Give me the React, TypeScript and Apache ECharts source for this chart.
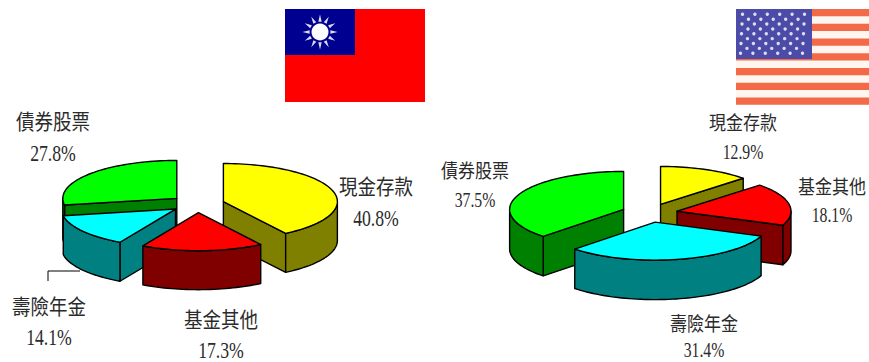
import React, { useEffect, useRef } from "react";
import * as echarts from "echarts";

const categories = ["現金存款", "基金其他", "壽險年金", "債券股票"];
const taiwanShares = [40.8, 17.3, 14.1, 27.8];
const usShares = [12.9, 18.1, 31.4, 37.5];

const topColors = ["#ffff00", "#ff0000", "#00ffff", "#00ff00"];
const sideColors = ["#808000", "#800000", "#008080", "#008000"];

const CJK_FONT = '"Noto Sans CJK TC", sans-serif';
const NUM_FONT = '"Liberation Serif", serif';
const INK = "#2b2b2b";

type PieShape = {
  cx: number; cy: number; rx: number; ry: number; depth: number;
  explodeX: number; explodeY: number;
};

const leftPie: PieShape = { cx: 197.5, cy: 204, rx: 114, ry: 38, depth: 39, explodeX: 27, explodeY: 8.7 };
const rightPie: PieShape = { cx: 649.5, cy: 213, rx: 114, ry: 38, depth: 39.5, explodeX: 28, explodeY: 9.3 };

const rad = (d: number) => (d * Math.PI) / 180;

// One tilted, exploded pie as a custom series: angles run clockwise from 12 o'clock.
function pieSeries(shares: number[], pie: PieShape) {
  const total = shares.reduce((a, b) => a + b, 0);
  const mids = shares.map((_, i) => {
    const before = shares.slice(0, i).reduce((a, b) => a + b, 0);
    return ((before + shares[i] / 2) / total) * 360;
  });
  // Paint back slices first.
  const rank = mids
    .map((m, i) => ({ i, k: -Math.cos(rad(m)) }))
    .sort((a, b) => a.k - b.k)
    .reduce((acc: number[], e, r) => { acc[e.i] = r; return acc; }, []);

  return {
    type: "custom",
    coordinateSystem: "none",
    silent: true,
    data: shares,
    renderItem: (params: any, api: any) => {
      const i = params.dataIndex;
      const value = api.value(0);
      const before = shares.slice(0, i).reduce((a, b) => a + b, 0);
      const a0 = (before / total) * 360;
      const a1 = a0 + (value / total) * 360;
      const ax = pie.cx + pie.explodeX * Math.sin(rad(mids[i]));
      const ay = pie.cy - pie.explodeY * Math.cos(rad(mids[i]));
      const rim = (t: number, drop = 0): number[] => [
        ax + pie.rx * Math.sin(rad(t)),
        ay - pie.ry * Math.cos(rad(t)) + drop,
      ];
      const arc = (from: number, to: number, drop = 0) => {
        const n = Math.max(2, Math.ceil((to - from) / 2));
        const pts: number[][] = [];
        for (let k = 0; k <= n; k++) pts.push(rim(from + ((to - from) * k) / n, drop));
        return pts;
      };
      const base = rank[i] * 10;
      const poly = (points: number[][], fill: string, z: number) => ({
        type: "polygon",
        z2: base + z,
        shape: { points },
        style: { fill, stroke: "#000", lineWidth: 1.4, lineJoin: "round" },
      });
      const children: any[] = [];
      const radialFace = (t: number) => {
        const p = rim(t);
        return [[ax, ay], p, [p[0], p[1] + pie.depth], [ax, ay + pie.depth]];
      };
      if (Math.sin(rad(a0)) < -1e-6) children.push(poly(radialFace(a0), sideColors[i], 1));
      if (Math.sin(rad(a1)) > 1e-6) children.push(poly(radialFace(a1), sideColors[i], 1));
      const w0 = Math.max(a0, 90);
      const w1 = Math.min(a1, 270);
      if (w1 > w0) {
        children.push(poly([...arc(w0, w1), ...arc(w0, w1, pie.depth).reverse()], sideColors[i], 2));
      }
      children.push(poly([[ax, ay], ...arc(a0, a1)], topColors[i], 3));
      return { type: "group", children };
    },
  };
}

function label(text: string, x: number, y: number, font: string, size: number, scaleX: number) {
  return {
    type: "text", x, y, scaleX, silent: true, z: 10,
    style: {
      text, fill: INK, fontFamily: font, fontSize: size,
      textAlign: "center", textVerticalAlign: "middle",
    },
  };
}

// Each pie's caption: name above, percentage below; both faces are drawn tall and narrow.
function caption(i: number, shares: number[], x: number, nameY: number, pctY: number, big: boolean) {
  return [
    label(categories[i], x, nameY, CJK_FONT, big ? 21 : 19.5, big ? 0.88 : 0.87),
    label(`${shares[i].toFixed(1)}%`, x, pctY, NUM_FONT, big ? 23 : 21, big ? 0.77 : 0.75),
  ];
}

function taiwanFlag() {
  const sx = 320, sy = 32;
  const rays: any[] = [];
  for (let k = 0; k < 12; k++) {
    const t = rad(k * 30);
    const tip = [sx + 17.5 * Math.sin(t), sy - 17.5 * Math.cos(t)];
    const b = 10.5;
    const left = [sx + b * Math.sin(t - 0.16), sy - b * Math.cos(t - 0.16)];
    const right = [sx + b * Math.sin(t + 0.16), sy - b * Math.cos(t + 0.16)];
    rays.push({ type: "polygon", shape: { points: [tip, left, right] }, style: { fill: "#dcdcf0" } });
  }
  return [
    { type: "rect", shape: { x: 285, y: 9, width: 140, height: 93 }, style: { fill: "#ff0000" } },
    { type: "rect", shape: { x: 285, y: 9, width: 70, height: 46 }, style: { fill: "#000090" } },
    ...rays,
    { type: "circle", shape: { cx: sx, cy: sy, r: 8.5 }, style: { fill: "#ffffff" } },
  ];
}

function usFlag() {
  const x0 = 736, x1 = 869, y0 = 9, stripe = 7.37;
  const parts: any[] = [
    { type: "rect", shape: { x: x0, y: y0, width: x1 - x0, height: 96 }, style: { fill: "#fff6f0" } },
  ];
  for (let s = 0; s < 7; s++) {
    parts.push({
      type: "rect",
      shape: { x: x0, y: y0 + s * 2 * stripe, width: x1 - x0, height: stripe },
      style: { fill: "#f26a48" },
    });
  }
  parts.push({ type: "rect", shape: { x: x0, y: y0, width: 76, height: 50 }, style: { fill: "#4c4ca8" } });
  for (let row = 0; row < 9; row++) {
    const odd = row % 2 === 1;
    const skew = (row / 8) * 2;
    const count = odd ? 5 : 6;
    for (let c = 0; c < count; c++) {
      parts.push({
        type: "circle",
        shape: {
          cx: 742.5 + (odd ? 6.2 : 0) + c * 12.4 - skew,
          cy: 14.3 + row * 4.87,
          r: 1.7,
        },
        style: { fill: "#dcdcf2" },
      });
    }
  }
  return parts;
}

export default function App() {
  const ref = useRef<HTMLDivElement>(null);
  useEffect(() => {
    const chart = echarts.init(ref.current!, undefined, { renderer: "svg" });
    chart.setOption({
      animation: false,
      backgroundColor: "#ffffff",
      series: [pieSeries(taiwanShares, leftPie), pieSeries(usShares, rightPie)],
      graphic: [
        ...taiwanFlag(),
        ...usFlag(),
        {
          type: "polyline",
          shape: { points: [[48, 281], [48, 271], [80, 271]] },
          style: { stroke: "#000", lineWidth: 1, fill: "none" },
        },
        ...caption(0, taiwanShares, 376, 185, 218, true),
        ...caption(1, taiwanShares, 221, 318, 350, true),
        ...caption(2, taiwanShares, 49, 305, 337, true),
        ...caption(3, taiwanShares, 53, 120, 153, true),
        ...caption(0, usShares, 743, 121, 152, false),
        ...caption(1, usShares, 832, 185, 215, false),
        ...caption(2, usShares, 704, 322, 350, false),
        ...caption(3, usShares, 475, 169, 200, false),
      ],
    });
    return () => chart.dispose();
  }, []);
  return (
    <div
      ref={ref}
      style={{ position: "absolute", left: 0, top: 0, width: 869, height: 362 }}
    />
  );
}
